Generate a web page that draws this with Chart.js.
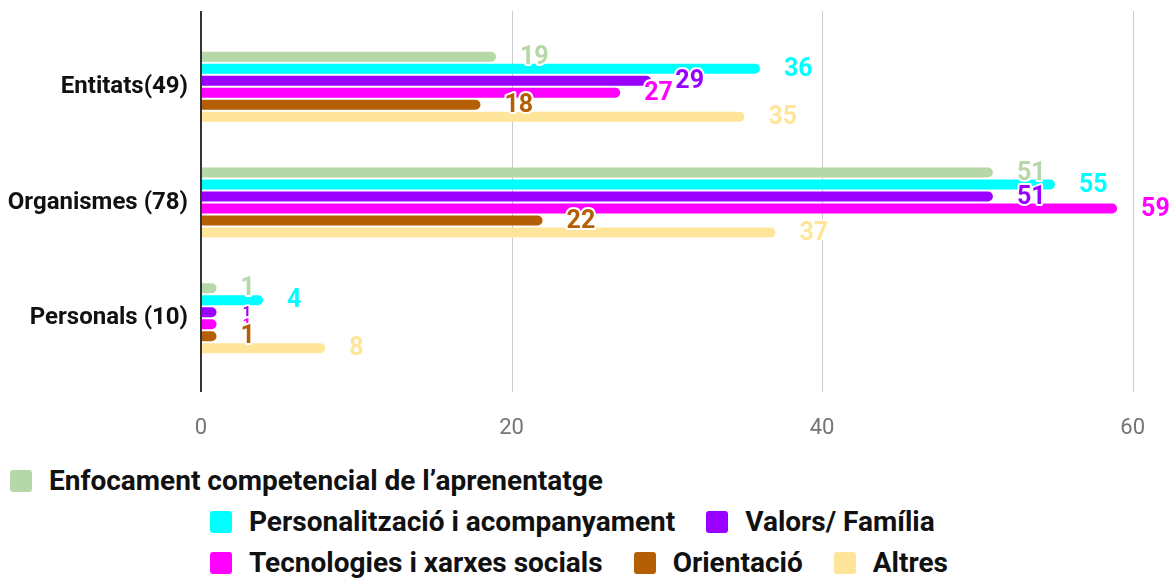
<!DOCTYPE html>
<html>
<head>
<meta charset="utf-8">
<script src="https://cdn.jsdelivr.net/npm/chart.js@4/dist/chart.umd.min.js"></script>
<style>
  html, body { margin: 0; padding: 0; background: #fff; }
  #wrap { position: relative; width: 1176px; height: 579px; overflow: hidden; font-family: Roboto, sans-serif; }
  #chart { position: absolute; left: 0; top: 0; }
  .row { position: absolute; display: flex; align-items: center; height: 41px; white-space: nowrap; }
  .item { display: flex; align-items: center; margin-right: 31px; font-weight: 700; font-size: 28px; color: #111; }
  .box { width: 22px; height: 22px; border-radius: 3px; margin-right: 17px; }
</style>
</head>
<body>
<div id="wrap">
  <canvas id="chart" width="1176" height="450"></canvas>
  <div id="legend"></div>
</div>
<script>
// ==============================
//  DATOS
// ==============================
const categorias = ["Entitats(49)", "Organismes (78)", "Personals (10)"];
const series = [
  "Enfocament competencial de l’aprenentatge",
  "Personalització i acompanyament",
  "Valors/ Família",
  "Tecnologies i xarxes socials",
  "Orientació",
  "Altres"
];
const enfocament   = [19, 51, 1];
const personalitz  = [36, 55, 4];
const valors       = [29, 51, 1];
const tecnologies  = [27, 59, 1];
const orientacio   = [18, 22, 1];
const altres       = [35, 37, 8];
const ticksX = [0, 20, 40, 60];

const colores = ["#b6d7a8", "#00ffff", "#9900ff", "#ff00ff", "#b45f06", "#ffe599"];
const valores = [enfocament, personalitz, valors, tecnologies, orientacio, altres];

// etiquetas que Sheets dibuja más pequeñas (dataset, índice)
const etiquetasPeque = ["2-2", "3-2"];

// ==============================
//  PLUGINS
// ==============================
const rejilla = {
  id: "rejilla",
  beforeDatasetsDraw(chart) {
    const { ctx, chartArea, scales } = chart;
    ctx.save();
    scales.x.ticks.forEach(t => {
      if (t.value === 0) return;
      const x = Math.round(scales.x.getPixelForValue(t.value)) + 0.5;
      ctx.strokeStyle = "#cccccc";
      ctx.lineWidth = 1;
      ctx.beginPath();
      ctx.moveTo(x, chartArea.top - 18);
      ctx.lineTo(x, chartArea.bottom + 16);
      ctx.stroke();
    });
    ctx.restore();
  },
  afterDatasetsDraw(chart) {
    const { ctx, chartArea, scales } = chart;
    const x0 = scales.x.getPixelForValue(0);
    ctx.save();
    ctx.strokeStyle = "#333333";
    ctx.lineWidth = 2;
    ctx.beginPath();
    ctx.moveTo(x0, chartArea.top - 18);
    ctx.lineTo(x0, chartArea.bottom + 16);
    ctx.stroke();
    ctx.restore();
  }
};

const etiquetas = {
  id: "etiquetas",
  afterDatasetsDraw(chart) {
    const ctx = chart.ctx;
    ctx.save();
    ctx.textAlign = "left";
    ctx.textBaseline = "middle";
    ctx.lineJoin = "round";
    chart.data.datasets.forEach((ds, i) => {
      const meta = chart.getDatasetMeta(i);
      meta.data.forEach((bar, j) => {
        const peque = etiquetasPeque.includes(i + "-" + j);
        ctx.font = "bold " + (peque ? 15 : 25) + "px Roboto";
        const txt = String(ds.data[j]);
        const x = bar.x + (peque ? 26 : 24);
        const y = bar.y + 1;
        ctx.strokeStyle = "#ffffff";
        ctx.lineWidth = 4;
        ctx.strokeText(txt, x, y);
        ctx.fillStyle = ds.backgroundColor;
        ctx.fillText(txt, x, y);
      });
    });
    ctx.restore();
  }
};

// ==============================
//  GRÁFICO
// ==============================
const ctx = document.getElementById("chart").getContext("2d");
new Chart(ctx, {
  type: "bar",
  data: {
    labels: categorias,
    datasets: series.map((s, i) => ({
      label: s,
      data: valores[i],
      backgroundColor: colores[i],
      borderRadius: 5,
      borderSkipped: "start",
      barPercentage: 0.83,
      categoryPercentage: 0.623
    }))
  },
  options: {
    indexAxis: "y",
    responsive: false,
    animation: false,
    layout: { padding: { top: 29, right: 35, left: 0, bottom: 0 } },
    plugins: { legend: { display: false }, tooltip: { enabled: false } },
    scales: {
      x: {
        min: 0,
        max: 60,
        afterBuildTicks: s => { s.ticks = ticksX.map(v => ({ value: v })); },
        afterFit: s => { s.height = 74; },
        grid: { display: false },
        border: { display: false },
        ticks: { color: "#757575", padding: 31, font: { family: "Roboto", size: 22 } }
      },
      y: {
        afterFit: s => { s.width = 201; },
        grid: { display: false, drawTicks: false },
        border: { display: false },
        ticks: { color: "#111", padding: 13, font: { family: "Roboto", size: 24, weight: "bold" } }
      }
    }
  },
  plugins: [rejilla, etiquetas]
});

// ==============================
//  LEYENDA (filas como en Sheets)
// ==============================
const filas = [
  { left: 10, top: 460, items: [0] },
  { left: 210, top: 501, items: [1, 2] },
  { left: 210, top: 542, items: [3, 4, 5] }
];
const leyenda = document.getElementById("legend");
filas.forEach(f => {
  const row = document.createElement("div");
  row.className = "row";
  row.style.left = f.left + "px";
  row.style.top = f.top + "px";
  f.items.forEach(i => {
    const it = document.createElement("div");
    it.className = "item";
    it.innerHTML = `<span class="box" style="background:${colores[i]}"></span><span>${series[i]}</span>`;
    row.appendChild(it);
  });
  leyenda.appendChild(row);
});
</script>
</body>
</html>
